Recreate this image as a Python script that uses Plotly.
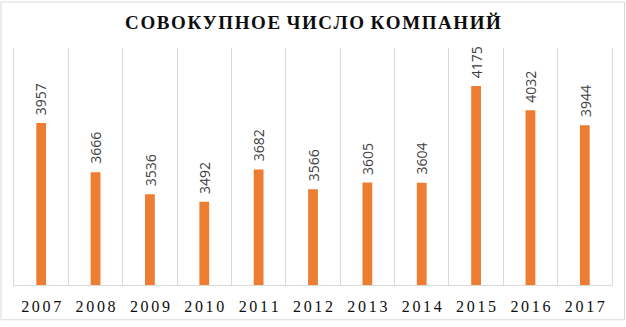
import plotly.graph_objects as go

years = ["2007", "2008", "2009", "2010", "2011", "2012", "2013", "2014", "2015", "2016", "2017"]
companies = [3957, 3666, 3536, 3492, 3682, 3566, 3605, 3604, 4175, 4032, 3944]
title_text = "СОВОКУПНОЕ ЧИСЛО КОМПАНИЙ"

HAIR = "\u200a"
def spaced(s, sep=HAIR):
    return sep.join(s)

W, H = 626, 327
L, R, T, B = 14, 14, 48, 37
pw, ph = W - L - R, H - T - B

fig = go.Figure()
fig.add_trace(go.Bar(
    x=years, y=companies,
    marker=dict(color="#ED7D31", line=dict(width=0)),
    width=0.18,
    hoverinfo="skip",
))

for i, v in enumerate(companies):
    fig.add_annotation(
        x=i, y=v, text=str(v), showarrow=False,
        textangle=-90, yanchor="bottom", xanchor="center", yshift=6,
        font=dict(family="Open Sans", size=14, color="#404040"),
    )

# outer chart border
fig.add_shape(
    type="rect", xref="paper", yref="paper",
    x0=(1 - L) / pw, x1=(W - 1.5 - L) / pw,
    y0=(H - B - (H - 1.5)) / ph, y1=(H - B - 1) / ph,
    line=dict(color="#d9d9d9", width=1), fillcolor="rgba(0,0,0,0)",
    layer="below",
)

title_html = "<b>" + ("\u00a0" + HAIR).join(spaced(w, HAIR) for w in title_text.split(" ")) + "</b>"

fig.update_layout(
    width=W, height=H,
    margin=dict(l=L, r=R, t=T, b=B),
    paper_bgcolor="white", plot_bgcolor="white",
    showlegend=False,
    title=dict(
        text=title_html,
        x=0.5, xanchor="center", xref="paper",
        y=1 - 22.5 / H, yanchor="middle", yref="container",
        font=dict(family="Liberation Serif", size=19, color="#0d0d0d"),
    ),
    xaxis=dict(
        type="category",
        tickvals=years, ticktext=[spaced(y, HAIR + HAIR) for y in years],
        tickson="boundaries", ticks="",
        showgrid=True, gridcolor="#d9d9d9", gridwidth=1,
        showline=True, linecolor="#d9d9d9", linewidth=1,
        tickfont=dict(family="Liberation Serif", size=16, color="#0d0d0d"),
        ticklabelstandoff=7,
        range=[-0.5, len(years) - 0.5],
    ),
    yaxis=dict(
        range=[3000, 4400], showticklabels=False, ticks="",
        showgrid=False, zeroline=False,
        showline=True, mirror=True, linecolor="#d9d9d9", linewidth=1,
    ),
)

fig.write_html("out.html")
